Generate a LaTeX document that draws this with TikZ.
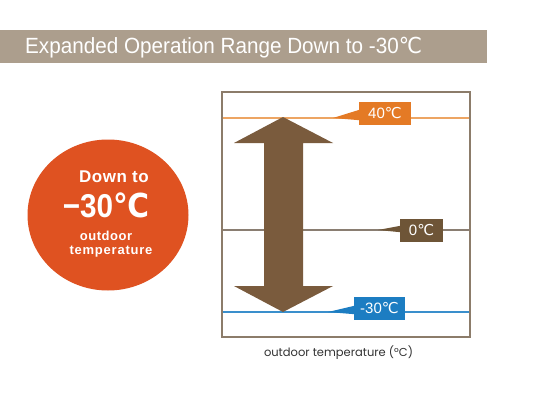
\documentclass[tikz,border=0pt]{standalone}
\usepackage{fontspec}
\setmainfont{Liberation Sans}
\newfontfamily\dejavu{DejaVu Sans}
\newfontfamily\poppins{Poppins}
\newcommand{\dgc}{{\dejavu ℃}}
\usetikzlibrary{shapes.geometric,calc}
\definecolor{bannerc}{HTML}{AC9E8D}
\definecolor{circc}{HTML}{DF5221}
\definecolor{orlbl}{HTML}{E47A25}
\definecolor{orline}{HTML}{EDA563}
\definecolor{brlbl}{HTML}{6E5537}
\definecolor{arrowc}{HTML}{7A5B3D}
\definecolor{bllbl}{HTML}{1C7DC2}
\definecolor{blline}{HTML}{3A8FCC}
\definecolor{framec}{HTML}{8C7C6A}
\definecolor{zeroline}{HTML}{8A7E72}
\begin{document}
\begin{tikzpicture}[x=1pt,y=-1pt,
  lbl/.style={text=white, inner sep=0pt, minimum width=52pt, minimum height=23pt,
    font=\fontsize{15}{15}\selectfont},
  disctext/.style={text=white, inner sep=0pt, font=\bfseries\fontsize{#1}{#1}\selectfont},
  tline/.style={line width=1.2pt}]
\useasboundingbox (0,0) rectangle (551,396);
\fill[white] (0,0) rectangle (551,396);
% banner
\node[fill=bannerc, inner sep=0pt, minimum width=487pt, minimum height=33pt, anchor=north west] (banner) at (0,30) {};
\node[anchor=west, text=white, inner sep=0pt, font=\fontsize{22}{22}\selectfont] (title) at (25,48)
  {\scalebox{0.94}[1]{Expanded Operation Range Down to -30\dgc}};
% disc
\node[ellipse, fill=circc, inner sep=0pt, minimum width=161pt, minimum height=151pt] (disc) at (108,215) {};
\node[disctext=17] (d1) at (114,177) {\addfontfeature{LetterSpace=3}Down to};
\node[disctext=33] (d2) at (106,205) {\scalebox{0.9}[1]{−30\dgc}};
\node[disctext=13] (d3) at (106,236) {\addfontfeature{LetterSpace=4}outdoor};
\node[disctext=13] (d4) at (111,252) {\addfontfeature{LetterSpace=6}temperature};
% temperature lines
\coordinate (a40) at (222,118); \coordinate (b40) at (470,118);
\coordinate (a0) at (222,230); \coordinate (b0) at (470,230);
\coordinate (am30) at (222,312); \coordinate (bm30) at (470,312);
\draw[orline, tline] (a40) -- (b40);
\draw[zeroline, tline] (a0) -- (b0);
\draw[blline, tline] (am30) -- (bm30);
% double arrow
\fill[arrowc] (283,117) -- (333,143) -- (303,143) -- (303,286) -- (333,286) -- (283,312)
  -- (234,286) -- (264,286) -- (264,143) -- (234,143) -- cycle;
% labels
\node[lbl, fill=orlbl] (l40) at (385,113.5) {40\dgc};
\node[lbl, fill=brlbl, minimum width=43pt] (l0) at (421.5,230.5) {0\dgc};
\node[lbl, fill=bllbl, minimum width=51pt] (lm30) at (379.5,308.5) {-30\dgc};
\coordinate (p40) at (333,118);
\coordinate (p0) at (378,230);
\coordinate (pm30) at (328,312);
\fill[orlbl] (p40) -- ($(l40.north west)+(0.5,8)$) -- ($(l40.south west)+(0.5,-5)$) -- cycle;
\fill[brlbl] (p0) -- ($(l0.north west)+(0.5,7)$) -- ($(l0.south west)+(0.5,-10)$) -- cycle;
\fill[bllbl] (pm30) -- ($(lm30.north west)+(0.5,9)$) -- ($(lm30.south west)+(0.5,-6)$) -- cycle;
% frame
\draw[framec, line width=1.5pt] (222,92) rectangle (470,337);
\node[text=black!80, inner sep=0pt, font=\poppins\fontsize{11.5}{11.5}\selectfont] (axis) at (338.5,353)
  {outdoor temperature (°C)};
\end{tikzpicture}
\end{document}
